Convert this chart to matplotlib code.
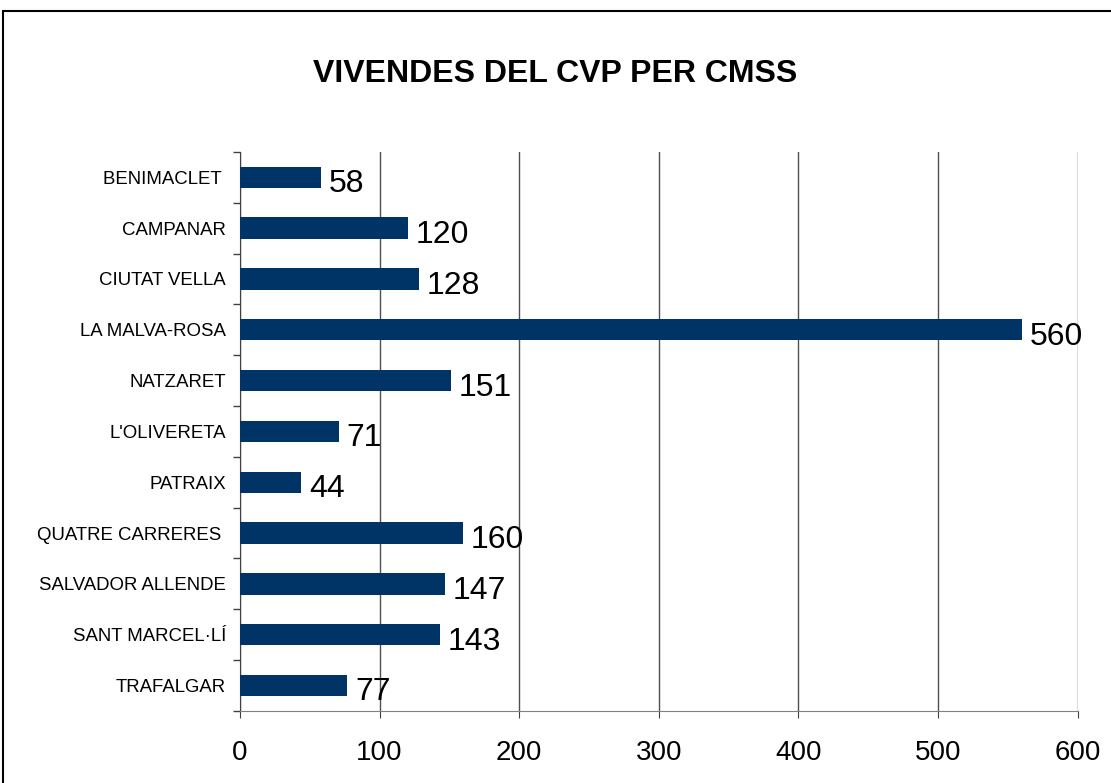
import matplotlib.pyplot as plt
import matplotlib.patches as patches
import numpy as np

plt.rcParams['font.family'] = ['Liberation Sans', 'DejaVu Sans']

categories = ['BENIMACLET ', 'CAMPANAR', 'CIUTAT VELLA', 'LA MALVA-ROSA', 'NATZARET',
              "L'OLIVERETA", 'PATRAIX', 'QUATRE CARRERES ', 'SALVADOR ALLENDE',
              'SANT MARCEL·LÍ', 'TRAFALGAR']
values = [58, 120, 128, 560, 151, 71, 44, 160, 147, 143, 77]
xticks = [0, 100, 200, 300, 400, 500, 600]

fig = plt.figure(figsize=(11.11, 7.83), dpi=100)
ax = fig.add_axes([0.216, 0.092, 0.754, 0.714])

y = np.arange(len(categories))
ax.barh(y, values, height=0.42, color='#003366', zorder=3)

for yi, v in zip(y, values):
    ax.annotate(str(v), (v, yi), xytext=(5.5, -5), textcoords='offset points',
                ha='left', va='center', fontsize=23, color='black', zorder=4)

ax.set_xlim(0, 600)
ax.set_ylim(len(categories) - 0.5, -0.5)
ax.set_xticks(xticks)
ax.set_xticklabels([str(t) for t in xticks], fontsize=20)
ax.set_yticks(y)
ax.set_yticklabels(categories, fontsize=13.4)
ax.set_yticks(np.arange(-0.5, len(categories)), minor=True)
ax.tick_params(axis='y', which='major', length=0, pad=10)
ax.tick_params(axis='y', which='minor', length=5, width=1, color='#404040')
ax.tick_params(axis='x', which='major', direction='out', length=5, pad=16, color='#404040')

ax.grid(axis='x', color='#505050', linewidth=1, zorder=0)
ax.spines['top'].set_visible(False)
ax.spines['right'].set_visible(False)
ax.spines['left'].set_color('#404040')
ax.spines['bottom'].set_color('#808080')

fig.text(0.5, 0.906, 'VIVENDES DEL CVP PER CMSS', ha='center', va='center',
         fontsize=23, fontweight='bold')

border = patches.Rectangle((0.003, -0.05), 1.05, 0.036 + 1.0, transform=fig.transFigure,
                           fill=False, edgecolor='black', linewidth=1.5, clip_on=False)
fig.patches.append(border)

fig.savefig('out.png', dpi=100)
